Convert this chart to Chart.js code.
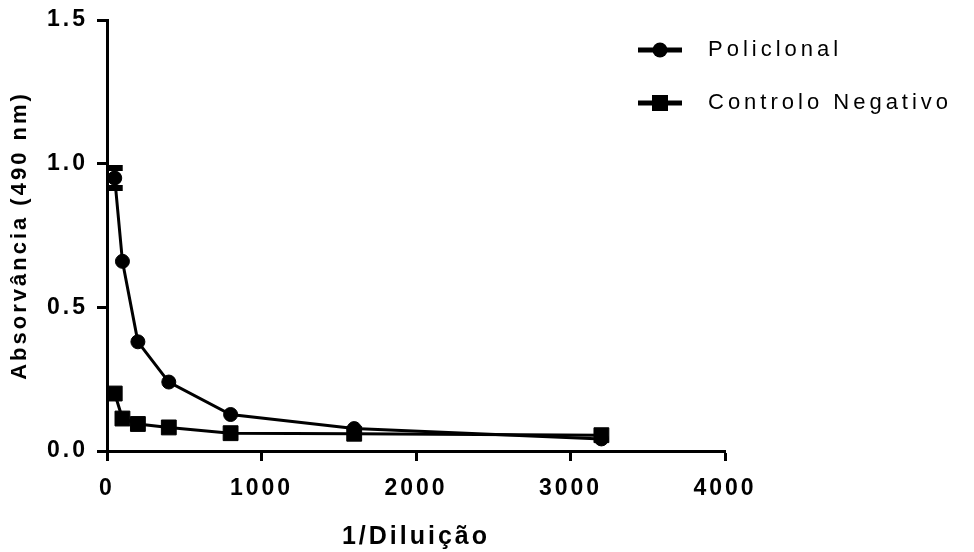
<!DOCTYPE html>
<html>
<head>
<meta charset="utf-8">
<script src="https://cdn.jsdelivr.net/npm/chart.js@4.4.1/dist/chart.umd.min.js"></script>
<style>
  html, body { margin: 0; padding: 0; background: #fff; }
  #wrap { width: 974px; height: 552px; position: relative; }
</style>
</head>
<body>
<div id="wrap"><canvas id="titration"></canvas></div>
<script>
const dilutions = [50, 100, 200, 400, 800, 1600, 3200]
const policlonal = [0.95, 0.66, 0.38, 0.24, 0.127, 0.078, 0.042]
const policlonalErr = [0.045, 0, 0, 0, 0, 0, 0]
const controlo = [0.2, 0.113, 0.094, 0.082, 0.062, 0.06, 0.055]
const controloErr = [0, 0, 0, 0, 0, 0, 0]
const xTicks = [0, 1000, 2000, 3000, 4000]
const yTicks = [0, 0.5, 1.0, 1.5]

const FONT = "'Liberation Sans', Arial, sans-serif"
const toPoints = values => dilutions.map((d, i) => ({ x: d, y: values[i] }))

// GraphPad-like wide letter spacing on every canvas text
const spacing = {
  id: 'spacing',
  beforeLayout: chart => { chart.ctx.letterSpacing = '3px' },
  beforeDraw: chart => { chart.ctx.letterSpacing = '3px' },
}

// vertical error bars with caps, behind the markers
const errorBars = {
  id: 'errorBars',
  beforeDatasetsDraw(chart) {
    const { ctx, scales } = chart
    chart.data.datasets.forEach(ds => {
      if (!ds.errors) return
      ds.data.forEach((p, i) => {
        const e = ds.errors[i]
        if (!e) return
        const x = scales.x.getPixelForValue(p.x)
        const top = scales.y.getPixelForValue(p.y + e)
        const bot = scales.y.getPixelForValue(p.y - e)
        ctx.save()
        ctx.strokeStyle = '#000'
        ctx.lineWidth = 3
        ctx.beginPath()
        ctx.moveTo(x, top); ctx.lineTo(x, bot)
        ctx.stroke()
        ctx.lineWidth = 6
        ctx.beginPath()
        ctx.moveTo(x - 8, top + 3); ctx.lineTo(x + 8, top + 3)
        ctx.moveTo(x - 8, bot - 3); ctx.lineTo(x + 8, bot - 3)
        ctx.stroke()
        ctx.restore()
      })
    })
  },
}

// legend: short line with the marker in the middle, then the label
const sideLegend = {
  id: 'sideLegend',
  afterDraw(chart) {
    const { ctx, chartArea } = chart
    const x0 = chartArea.right - 87
    chart.data.datasets.forEach((ds, i) => {
      const y = chartArea.top + 30 + i * 53
      ctx.save()
      ctx.strokeStyle = '#000'
      ctx.fillStyle = '#000'
      ctx.lineWidth = 5
      ctx.beginPath()
      ctx.moveTo(x0, y); ctx.lineTo(x0 + 44, y)
      ctx.stroke()
      ctx.beginPath()
      if (ds.pointStyle === 'rect') {
        ctx.rect(x0 + 22 - 8, y - 8, 16, 16)
      } else {
        ctx.arc(x0 + 22, y, 7.5, 0, Math.PI * 2)
      }
      ctx.fill()
      ctx.letterSpacing = '4px'
      ctx.font = '22px ' + FONT
      ctx.textAlign = 'left'
      ctx.textBaseline = 'middle'
      ctx.fillText(ds.label, x0 + 70, y)
      ctx.restore()
    })
  },
}

const ctxTitration = document.getElementById('titration').getContext('2d')

const dataTitration = {
  datasets: [
    {
      label: 'Policlonal',
      data: toPoints(policlonal),
      errors: policlonalErr,
      showLine: true,
      borderColor: '#000',
      backgroundColor: '#000',
      borderWidth: 3,
      pointStyle: 'circle',
      pointRadius: 7,
      pointBorderWidth: 1,
      order: 1,
    },
    {
      label: 'Controlo Negativo',
      data: toPoints(controlo),
      errors: controloErr,
      showLine: true,
      borderColor: '#000',
      backgroundColor: '#000',
      borderWidth: 3,
      pointStyle: 'rect',
      pointRadius: 10.5,
      pointBorderWidth: 1,
      order: 0,
    },
  ],
}

const configTitration = {
  type: 'scatter',
  data: dataTitration,
  options: {
    responsive: true,
    maintainAspectRatio: false,
    animation: false,
    clip: false,
    layout: { padding: { top: 20, right: 249, left: 0, bottom: 0 } },
    plugins: {
      legend: { display: false },
      tooltip: { enabled: false },
    },
    scales: {
      x: {
        type: 'linear',
        min: 0,
        max: 4000,
        afterFit: scale => { scale.height = 101 },
        afterBuildTicks: scale => { scale.ticks = xTicks.map(v => ({ value: v })) },
        border: { display: true, color: '#000', width: 3 },
        grid: { drawOnChartArea: false, color: '#000', tickLength: 10, tickWidth: 3 },
        ticks: {
          color: '#000',
          padding: 14,
          font: { family: FONT, size: 23, weight: 'bold' },
          callback: value => value + '',
        },
        title: {
          display: true,
          text: '1/Diluição',
          color: '#000',
          font: { family: FONT, size: 25, weight: 'bold' },
          padding: { top: 0, bottom: 0 },
        },
      },
      y: {
        type: 'linear',
        min: 0,
        max: 1.5,
        afterFit: scale => {
          scale.width = 107
          scale.paddingTop = 0
          scale.paddingBottom = 0
        },
        afterBuildTicks: scale => { scale.ticks = yTicks.map(v => ({ value: v })) },
        border: { display: true, color: '#000', width: 3 },
        grid: { drawOnChartArea: false, color: '#000', tickLength: 10, tickWidth: 3 },
        ticks: {
          color: '#000',
          padding: 9,
          font: { family: FONT, size: 23, weight: 'bold' },
          callback: value => value.toFixed(1),
        },
        title: {
          display: true,
          text: 'Absorvância (490 nm)',
          color: '#000',
          font: { family: FONT, size: 22, weight: 'bold' },
          padding: { top: 7, bottom: 0 },
        },
      },
    },
  },
  plugins: [spacing, errorBars, sideLegend],
}

const TitrationChart = new Chart(ctxTitration, configTitration)
</script>
</body>
</html>
